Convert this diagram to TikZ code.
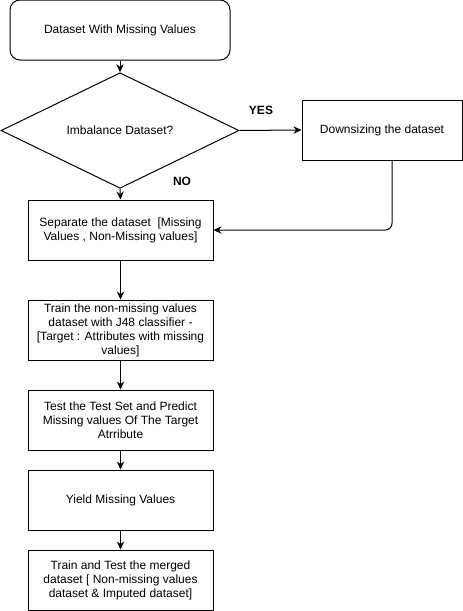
\documentclass[tikz,border=0pt]{standalone}
\usepackage{fontspec}
\setmainfont{Liberation Sans}
\usetikzlibrary{shapes.geometric,arrows.meta}

\begin{document}
\begin{tikzpicture}[x=0.75pt, y=-0.75pt,
		box/.style={draw, line width=0.75pt, minimum width=138.75pt, minimum height=45pt,
			inner sep=0pt, align=center, font=\fontsize{9}{10.5}\selectfont},
		decision/.style={draw, diamond, line width=0.75pt, minimum width=178.5pt, minimum height=59.25pt,
			inner sep=0pt, align=center, font=\fontsize{9}{10.5}\selectfont},
		flow/.style={line width=0.75pt, -{Stealth[length=6pt, width=5.5pt]}},
		answer/.style={font=\fontsize{9}{10.5}\selectfont\bfseries}]
			%%%%% START %%%%%
			\useasboundingbox (0, 0) rectangle (463, 611);
			
			\node[box, rounded corners=7.5pt, minimum width=165pt] (start) at (120, 30) {Dataset With Missing Values};
			\node[decision] (imbalance) at (120, 130.5) {Imbalance Dataset?};
			\node[box, minimum width=120pt] (downsize) at (382, 130) {Downsizing the dataset};
			
			\node[box] (separate) at (120.5, 230) {Separate the dataset\ \ [Missing\\Values , Non-Missing values]};
			\node[box] (train) at (120.5, 330) {Train the non-missing values\\dataset with J48 classifier -\\{}[Target : Attributes with missing\\values]};
			\node[box] (test) at (120.5, 420) {Test the Test Set and Predict\\Missing values Of The Target\\Atrribute};
			\node[box] (yield) at (120.5, 500) {Yield Missing Values};
			\node[box] (merged) at (120.5, 580) {Train and Test the merged\\dataset [ Non-missing values\\dataset \& Imputed dataset]};
			
			\node[answer] (yes) at (261, 110) {YES};
			\node[answer] (no) at (182, 181) {NO};
			
			\draw[flow] (start) -- (imbalance);
			\draw[flow] (imbalance.east) -- (downsize.west);
			\draw[flow] (imbalance.south) -- (separate.north);
			\draw[flow, rounded corners=5pt] ([xshift=7.5pt]downsize.south) |- (separate.east);
			
			\draw[flow] (separate) -- (train);
			\draw[flow] (train) -- (test);
			\draw[flow] (test) -- (yield);
			\draw[flow] (yield) -- (merged);
			
			%%%%% END %%%%%
		\end{tikzpicture}
\end{document}
